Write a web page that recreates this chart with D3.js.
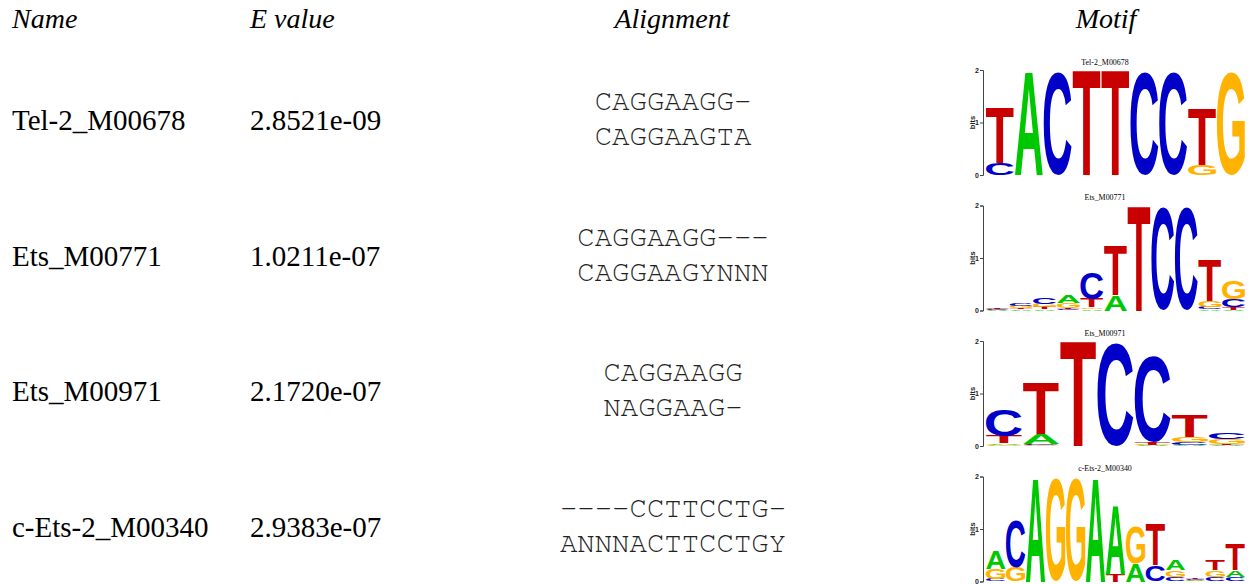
<!DOCTYPE html>
<html>
<head>
<meta charset="utf-8">
<script src="https://cdn.jsdelivr.net/npm/d3@7/dist/d3.min.js"></script>
<style>
  html, body { margin: 0; padding: 0; background: #fff; }
  svg { display: block; }
</style>
</head>
<body>
<svg id="chart" width="1254" height="584"></svg>
<script>
// ---------------- DATA ----------------
const headers = ["Name", "E value", "Alignment", "Motif"];
const names = ["Tel-2_M00678", "Ets_M00771", "Ets_M00971", "c-Ets-2_M00340"];
const evalues = ["2.8521e-09", "1.0211e-07", "2.1720e-07", "2.9383e-07"];
const alignQuery = ["CAGGAAGG\u2212", "CAGGAAGG\u2212\u2212\u2212", "CAGGAAGG", "\u2212\u2212\u2212\u2212CCTTCCTG\u2212"];
const alignTarget = ["CAGGAAGTA", "CAGGAAGYNNN", "NAGGAAG\u2212", "ANNNACTTCCTGY"];
const bases = ["A", "C", "G", "T"];
const yTicks = [0, 1, 2];

// information content per column (bits), order [A, C, G, T]
const motifTel2 = [
  [0, 0.22, 0, 1.05], [1.97, 0, 0, 0], [0, 1.96, 0, 0], [0, 0, 0, 2.0], [0, 0, 0, 2.0],
  [0, 1.96, 0, 0], [0, 1.96, 0, 0], [0, 0, 0.19, 1.08], [0, 0, 1.96, 0]
];
const motifEts771 = [
  [0.01, 0.01, 0.01, 0.01], [0.02, 0.05, 0.04, 0.03], [0.02, 0.12, 0.07, 0.04],
  [0.15, 0.02, 0.1, 0.03], [0.03, 0.51, 0.03, 0.16], [0.29, 0, 0, 0.93],
  [0, 0, 0, 2.0], [0, 1.95, 0, 0], [0, 1.95, 0, 0],
  [0.02, 0.04, 0.13, 0.8], [0.01, 0.16, 0.35, 0.05]
];
const motifEts971 = [
  [0.03, 0.51, 0.02, 0.14], [0.19, 0.02, 0.01, 1.0], [0, 0, 0, 2.0], [0, 1.95, 0, 0],
  [0.01, 1.62, 0.01, 0.05], [0.02, 0.05, 0.1, 0.43], [0.01, 0.12, 0.1, 0.03]
];
const motifCEts2 = [
  [0.35, 0.05, 0.19, 0], [0, 0.9, 0.27, 0], [1.97, 0, 0, 0], [0, 0, 1.95, 0], [0, 0, 1.95, 0],
  [1.97, 0, 0, 0], [1.31, 0, 0, 0.15], [0.34, 0, 0.7, 0], [0, 0.31, 0, 0.8],
  [0.19, 0.08, 0.13, 0], [0.02, 0.02, 0.01, 0.02], [0, 0.08, 0.13, 0.19], [0.13, 0.08, 0, 0.49]
];
const motifs = [motifTel2, motifEts771, motifEts971, motifCEts2];

// ---------------- STYLE / LAYOUT ----------------
const baseColor = { A: "#00c800", C: "#0000c8", G: "#ffb300", T: "#c80000" };
const W = 1254, H = 584;
const rowPitch = 135.5;
const svg = d3.select("#chart");
svg.append("rect").attr("width", W).attr("height", H).attr("fill", "#fff");

const serif = "'Liberation Serif', 'Times New Roman', serif";
const mono = "'Nimbus Mono PS', 'Nimbus Mono L', FreeMono, Courier, 'Liberation Mono', monospace";
const sans = "'Liberation Sans', Arial, sans-serif";

// header
const headerX = [12, 250, 672, 1106];
const headerAnchor = ["start", "start", "middle", "middle"];
svg.selectAll("text.hdr").data(headers).join("text")
  .attr("class", "hdr")
  .attr("x", (d, i) => headerX[i]).attr("y", 28)
  .attr("text-anchor", (d, i) => headerAnchor[i])
  .attr("font-family", serif).attr("font-style", "italic").attr("font-size", 28)
  .attr("fill", "#000").text(d => d);

const rows = svg.selectAll("g.row").data(names).join("g")
  .attr("class", "row")
  .attr("transform", (d, i) => `translate(0, ${i * rowPitch})`);

rows.append("text").attr("x", 12).attr("y", 130)
  .attr("font-family", serif).attr("font-size", 29).attr("fill", "#000")
  .text(d => d);
rows.append("text").attr("x", 250).attr("y", 130)
  .attr("font-family", serif).attr("font-size", 29).attr("fill", "#000")
  .text((d, i) => evalues[i]);
rows.append("text").attr("x", 673).attr("y", 110)
  .attr("text-anchor", "middle")
  .attr("font-family", mono).attr("font-size", 29).attr("fill", "#222")
  .text((d, i) => alignQuery[i]);
rows.append("text").attr("x", 673).attr("y", 145)
  .attr("text-anchor", "middle")
  .attr("font-family", mono).attr("font-size", 29).attr("fill", "#222")
  .text((d, i) => alignTarget[i]);

// glyph measurement for stretched letters
const cvs = document.createElement("canvas");
const ctx = cvs.getContext("2d");
ctx.font = "bold 100px 'Liberation Sans', Arial, sans-serif";
const glyph = {};
bases.forEach(b => {
  const m = ctx.measureText(b);
  glyph[b] = { L: m.actualBoundingBoxLeft, R: m.actualBoundingBoxRight, A: m.actualBoundingBoxAscent, D: m.actualBoundingBoxDescent };
});

// logos
const logoX0 = 986, logoX1 = 1245;
rows.each(function (name, i) {
  const g = d3.select(this);
  const cols = motifs[i];
  const top = 70, bottom = 175;
  const y = d3.scaleLinear().domain([0, 2]).range([bottom, top]);
  const x = d3.scaleBand().domain(d3.range(cols.length)).range([logoX0, logoX1]).paddingInner(0.03);

  // title
  g.append("text").attr("x", 1105).attr("y", 65).attr("text-anchor", "middle")
    .attr("font-family", serif).attr("font-size", 9).attr("fill", "#000")
    .attr("transform", "translate(1105,65) scale(0.88,1) translate(-1105,-65)")
    .text(name);

  // axis
  const axis = d3.axisLeft(y).tickValues(yTicks).tickSize(3).tickFormat(d3.format("d"));
  const ag = g.append("g").attr("transform", "translate(983,0)").call(axis);
  ag.select(".domain").attr("stroke", "#444");
  ag.selectAll(".tick line").attr("stroke", "#444");
  ag.selectAll(".tick text").attr("font-family", sans).attr("font-size", 7).attr("font-weight", "bold").attr("fill", "#222").attr("x", -4);
  g.append("text").attr("transform", `translate(975,${(top + bottom) / 2}) rotate(-90)`)
    .attr("text-anchor", "middle").attr("font-family", sans).attr("font-weight", "bold")
    .attr("font-size", 7.5).attr("fill", "#222").text("bits");

  // stacks
  cols.forEach((col, ci) => {
    const items = bases.map((b, k) => ({ b, v: col[k] })).filter(o => o.v > 0)
      .sort((a, b2) => a.v - b2.v);
    let acc = 0;
    items.forEach(o => {
      const y0 = y(acc + o.v), y1 = y(acc);
      acc += o.v;
      const h = y1 - y0;
      const w = x.bandwidth();
      const gm = glyph[o.b];
      const sx = w / (gm.L + gm.R), sy = h / (gm.A + gm.D);
      g.append("text")
        .attr("transform", `translate(${x(ci) + gm.L * sx},${y0 + gm.A * sy}) scale(${sx},${sy})`)
        .attr("font-family", "'Liberation Sans', Arial, sans-serif")
        .attr("font-weight", "bold").attr("font-size", 100)
        .attr("fill", baseColor[o.b]).text(o.b);
    });
  });
});
</script>
</body>
</html>
